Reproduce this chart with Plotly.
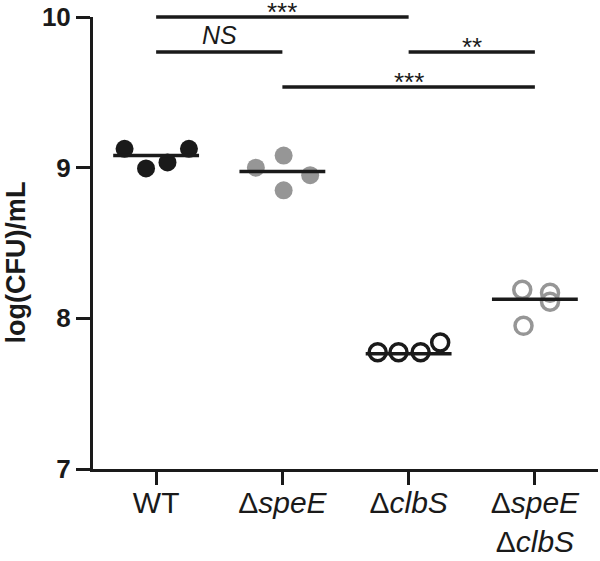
import plotly.graph_objects as go

# ---- data ----
categories = ["WT", "Δ<i>speE</i>", "Δ<i>clbS</i>", "Δ<i>speE</i><br>Δ<i>clbS</i>"]
wt_values = [9.125, 8.995, 9.035, 9.125]
spee_values = [9.00, 9.08, 8.95, 8.85]
clbs_values = [7.775, 7.775, 7.775, 7.84]
double_values = [8.19, 8.17, 8.11, 7.95]
group_means = [9.08, 8.975, 7.765, 8.126]

# horizontal jitter of the points within each category (category units)
wt_jitter = [-0.25, -0.08, 0.09, 0.26]
spee_jitter = [-0.21, 0.01, 0.22, 0.01]
clbs_jitter = [-0.245, -0.08, 0.095, 0.25]
double_jitter = [-0.10, 0.12, 0.12, -0.09]

y_ticks = [7, 8, 9, 10]

# significance comparisons
sig_left = [0, 0, 2, 1]
sig_right = [2, 1, 3, 3]
sig_level = [10.0, 9.767, 9.767, 9.535]
sig_text = ["***", "<i>NS</i>", "**", "***"]

# ---- styling ----
FONT = "Liberation Sans, Arial, sans-serif"
BLACK = "#1a1a1a"
GREY = "#969696"
W, H = 600, 561
ML, MR, MT, MB = 93, 2, 0, 92
plot_h = H - MT - MB
main_top_px = 17
y_dom_top = (plot_h - main_top_px) / plot_h
y_lo, y_hi = 7, 10
y2_hi = y_lo + (y_hi - y_lo) / y_dom_top

fig = go.Figure()

groups = [
    (wt_values, wt_jitter, dict(color=BLACK, size=18, line=dict(width=0))),
    (spee_values, spee_jitter, dict(color=GREY, size=18, line=dict(width=0))),
    (clbs_values, clbs_jitter, dict(color="rgba(0,0,0,0)", size=17, line=dict(color=BLACK, width=3.5))),
    (double_values, double_jitter, dict(color="rgba(0,0,0,0)", size=17, line=dict(color=GREY, width=3.5))),
]
for i, (vals, jit, mk) in enumerate(groups):
    fig.add_trace(go.Scatter(
        x=[i + j for j in jit], y=vals, mode="markers",
        marker=dict(symbol="circle", **mk), showlegend=False, hoverinfo="skip",
        xaxis="x", yaxis="y"))

half = 0.34
for i, m in enumerate(group_means):
    fig.add_trace(go.Scatter(
        x=[i - half, i + half], y=[m, m], mode="lines",
        line=dict(color=BLACK, width=3.5), showlegend=False, hoverinfo="skip",
        xaxis="x", yaxis="y"))

annotations = []
for a, b, lv, t in zip(sig_left, sig_right, sig_level, sig_text):
    fig.add_trace(go.Scatter(
        x=[a, b], y=[lv, lv], mode="lines",
        line=dict(color=BLACK, width=3.5), showlegend=False, hoverinfo="skip",
        xaxis="x2", yaxis="y2"))
    is_star = "*" in t
    annotations.append(dict(
        x=(a + b) / 2, y=lv, xref="x2", yref="y2", text=t, showarrow=False,
        xanchor="center", yanchor="bottom", borderpad=0,
        yshift=-11 if is_star else 2,
        font=dict(family=FONT, size=26 if is_star else 25, color=BLACK)))

annotations.append(dict(
    x=0, y=8.37, xref="paper", yref="y", xshift=-77, text="<b>log(CFU)/mL</b>",
    textangle=-90, showarrow=False, xanchor="center", yanchor="middle",
    font=dict(family=FONT, size=27, color=BLACK)))

fig.update_layout(
    width=W, height=H,
    margin=dict(l=ML, r=MR, t=MT, b=MB, pad=0, autoexpand=False),
    paper_bgcolor="white", plot_bgcolor="rgba(0,0,0,0)",
    font=dict(family=FONT, color=BLACK),
    xaxis=dict(domain=[0, 1], range=[-0.5, 3.5], tickmode="array",
               tickvals=list(range(len(categories))), ticktext=categories,
               showline=True, linewidth=3, linecolor=BLACK, ticks="outside",
               ticklen=13, tickwidth=3, tickcolor=BLACK, showgrid=False,
               zeroline=False, tickfont=dict(family=FONT, size=30, color=BLACK),
               ticklabelstandoff=-8,
               anchor="y", fixedrange=True, automargin=False),
    yaxis=dict(domain=[0, y_dom_top], range=[y_lo, y_hi], tickmode="array",
               tickvals=y_ticks, ticktext=[f"<b>{v}</b>" for v in y_ticks],
               showline=True, linewidth=3, linecolor=BLACK, ticks="outside",
               ticklen=14, tickwidth=3, tickcolor=BLACK, showgrid=False,
               zeroline=False, tickfont=dict(family=FONT, size=26, color=BLACK),
               anchor="x", fixedrange=True, automargin=False),
    xaxis2=dict(domain=[0, 1], range=[-0.5, 3.5], visible=False, anchor="y2",
                fixedrange=True, automargin=False),
    yaxis2=dict(domain=[0, 1], range=[y_lo, y2_hi], visible=False, anchor="x2",
                fixedrange=True, automargin=False),
    annotations=annotations,
)

fig.write_html("out.html", config={"displayModeBar": False},
               post_script="document.body.style.margin='0';")
